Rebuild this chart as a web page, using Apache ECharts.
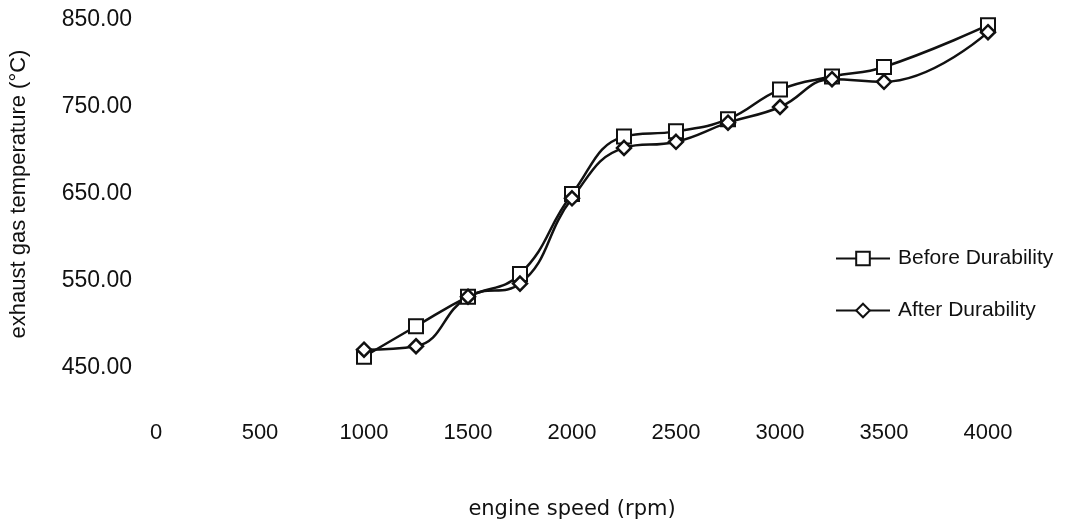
<!DOCTYPE html>
<html>
<head>
<meta charset="utf-8">
<script src="https://cdn.jsdelivr.net/npm/echarts@6/dist/echarts.min.js"></script>
<style>html,body{margin:0;padding:0;background:#fff}#c{width:1073px;height:525px}</style>
</head>
<body>
<div id="c"></div>
<script>
const speeds = [1000, 1250, 1500, 1750, 2000, 2250, 2500, 2750, 3000, 3250, 3500, 4000];
const beforeDurability = [463, 498, 532, 558, 650, 716, 722, 736, 770, 785, 796, 844];
const afterDurability = [471, 475, 532, 547, 645, 703, 710, 732, 750, 782, 779, 836];
const seriesNames = ['Before Durability', 'After Durability'];

const pair = (xs, ys) => xs.map((x, i) => [x, ys[i]]);
const FONT = '"Liberation Sans", Arial, sans-serif';
const INK = '#111';

const chart = echarts.init(document.getElementById('c'), null, {renderer: 'canvas'});
chart.setOption({
  backgroundColor: '#fff',
  animation: false,
  grid: {left: 154, right: 85, top: 20, bottom: 153},
  legend: {
    orient: 'vertical',
    left: 830,
    top: 243,
    itemWidth: 54,
    itemHeight: 17,
    itemGap: 31,
    textStyle: {fontFamily: FONT, fontSize: 21, color: INK, padding: [0, 0, 0, 3]},
    data: seriesNames
  },
  xAxis: {
    type: 'value',
    min: 0, max: 4000, interval: 500,
    axisLine: {show: false},
    axisTick: {show: false},
    splitLine: {show: false},
    axisLabel: {fontFamily: FONT, fontSize: 22, color: INK, margin: 54, formatter: v => String(v)},
    name: 'engine speed (rpm)',
    nameLocation: 'middle',
    nameGap: 131,
    nameTextStyle: {fontFamily: '"DejaVu Sans", sans-serif', fontSize: 21, color: INK}
  },
  yAxis: {
    type: 'value',
    min: 450, max: 850, interval: 100,
    axisLine: {show: false},
    axisTick: {show: false},
    splitLine: {show: false},
    axisLabel: {fontFamily: FONT, fontSize: 23, color: INK, margin: 24, formatter: v => v.toFixed(2)},
    name: 'exhaust gas temperature (\u00B0C)',
    nameLocation: 'middle',
    nameGap: 126,
    nameTextStyle: {fontFamily: FONT, fontSize: 22, color: INK}
  },
  series: [
    {
      name: seriesNames[0],
      type: 'line',
      smooth: 0.45,
      clip: false,
      data: pair(speeds, beforeDurability),
      symbol: 'rect',
      symbolSize: 14,
      lineStyle: {color: INK, width: 2.5},
      itemStyle: {color: '#fff', borderColor: INK, borderWidth: 2}
    },
    {
      name: seriesNames[1],
      type: 'line',
      smooth: 0.45,
      clip: false,
      data: pair(speeds, afterDurability),
      symbol: 'diamond',
      symbolSize: 14,
      lineStyle: {color: INK, width: 2.5},
      itemStyle: {color: '#fff', borderColor: INK, borderWidth: 2.5}
    }
  ]
});
</script>
</body>
</html>
